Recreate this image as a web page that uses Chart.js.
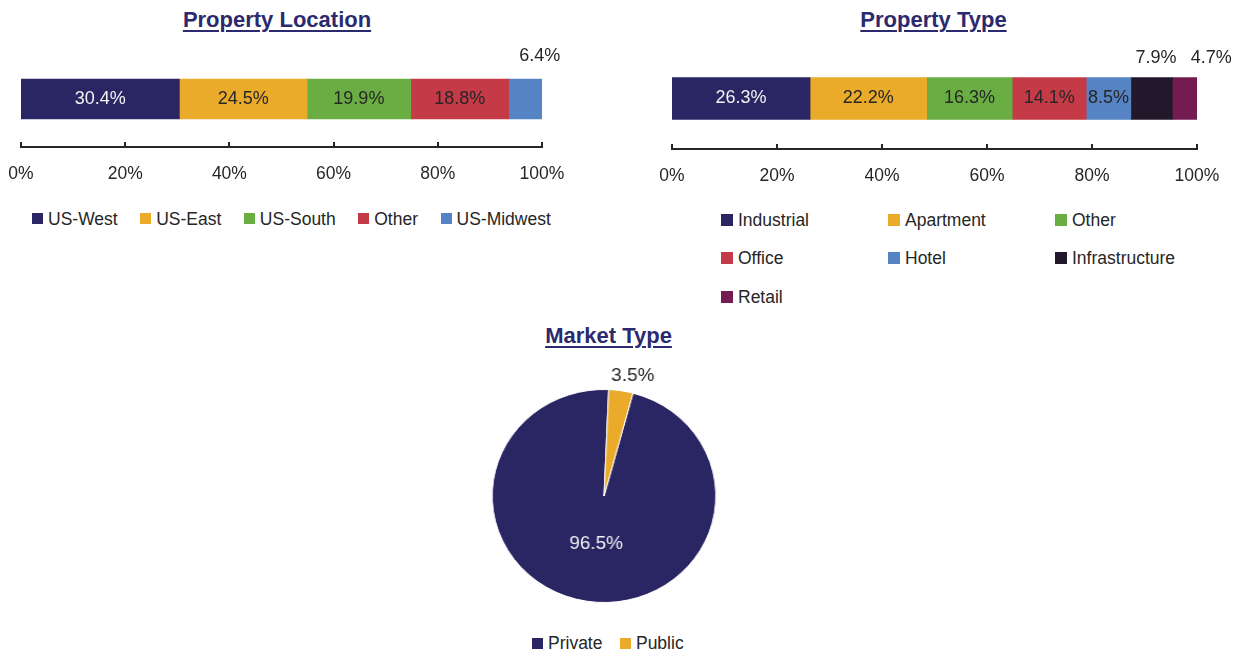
<!DOCTYPE html>
<html><head><meta charset="utf-8">
<script src="https://cdn.jsdelivr.net/npm/chart.js@4.4.1/dist/chart.umd.min.js"></script>
<style>
html,body{margin:0;padding:0;background:#fff;}
body{width:1236px;height:652px;position:relative;overflow:hidden;font-family:"Liberation Sans",Arial,sans-serif;color:#262626;}
.title{position:absolute;font-weight:bold;font-size:22px;line-height:22px;color:#2B2A6E;text-decoration:underline;text-decoration-thickness:2px;text-underline-offset:3px;white-space:nowrap;transform:translateX(-50%);}
canvas{position:absolute;}
.legend{position:absolute;font-size:17.5px;line-height:20px;white-space:nowrap;}
.row{display:flex;}
.item{display:flex;align-items:center;}
.box{width:11px;height:11px;margin-right:5px;flex:none;}
.grid{display:grid;grid-template-columns:167px 167px 167px;row-gap:18.5px;}
.grid .box{width:12px;height:12px;}
</style></head><body>
<div class="title" style="left:277px;top:9px">Property Location</div>
<div class="title" style="left:933.5px;top:9px">Property Type</div>
<div class="title" style="left:608.5px;top:325px">Market Type</div>

<canvas id="c1" width="605" height="187" style="left:-9px;top:0;width:605px;height:187px"></canvas>
<canvas id="c2" width="596" height="189" style="left:640px;top:0;width:596px;height:189px"></canvas>
<canvas id="c3" width="240" height="260" style="left:484px;top:366px;width:240px;height:260px;transform:scaleX(1.05);transform-origin:120px 130px"></canvas>

<div id="lg1" class="legend row" style="left:32px;top:208.5px;gap:22.5px"></div>
<div id="lg2" class="legend grid" style="left:721px;top:209.5px"></div>
<div id="lg3" class="legend row" style="left:532px;top:633px;gap:17.5px"></div>

<script>
// ---- data ----
const locationLabels = ['US-West','US-East','US-South','Other','US-Midwest'];
const locationValues = [30.4, 24.5, 19.9, 18.8, 6.4];
const typeLabels = ['Industrial','Apartment','Other','Office','Hotel','Infrastructure','Retail'];
const typeValues = [26.3, 22.2, 16.3, 14.1, 8.5, 7.9, 4.7];
const marketLabels = ['Private','Public'];
const marketValues = [96.5, 3.5];
const axisTicks = [0, 20, 40, 60, 80, 100];

// ---- styles ----
const locationColors = ['#2A2563','#EBAB2A','#6AAE43','#C53A47','#5583C4'];
const typeColors = ['#2A2563','#EBAB2A','#6AAE43','#C53A47','#5583C4','#21182B','#741B51'];
const marketColors = ['#2A2563','#EBAB2A'];
const locationLabelStyle = [{color:'#F2F2F2'},{},{},{},{out:23, dx:14.5}];
const typeLabelStyle = [{color:'#F2F2F2'},{},{},{},{},{out:19, dx:4.5},{out:19, dx:26.5}];
const marketLabelStyle = [{color:'#F2F2F2', f:0.46},{out:15, dx:9}];
const TXT = '#262626';
const FONT = '"Liberation Sans", Arial, sans-serif';

const segLabels = {
  id:'segLabels',
  afterDatasetsDraw(chart, args, opts){
    const ctx = chart.ctx;
    ctx.save();
    ctx.font = opts.font; ctx.textAlign = 'center'; ctx.textBaseline = 'middle';
    const isPie = chart.config.type === 'pie';
    chart.data.datasets.forEach((ds, i) => {
      const meta = chart.getDatasetMeta(i);
      meta.data.forEach((el, j) => {
        const v = ds.data[j];
        const st = opts.styles[isPie ? j : i] || {};
        let x, y;
        if (isPie) {
          const p = el.getProps(['startAngle','endAngle','outerRadius','x','y'], true);
          const mid = (p.startAngle + p.endAngle) / 2;
          const r = st.out ? p.outerRadius + st.out : p.outerRadius * (st.f || 0.5);
          x = p.x + Math.cos(mid) * r + (st.dx || 0);
          y = p.y + Math.sin(mid) * r;
        } else {
          const p = el.getProps(['x','y','base','height'], true);
          x = (p.x + p.base) / 2 + (st.dx || 0);
          y = st.out ? p.y - p.height / 2 - st.out : p.y;
        }
        ctx.fillStyle = st.color || opts.color;
        ctx.fillText(v.toFixed(1) + '%', x, y);
      });
    });
    ctx.restore();
  }
};

const upTicks = {
  id:'upTicks',
  afterDraw(chart, args, opts){
    const s = chart.scales.x, ctx = chart.ctx, yb = s.top;
    ctx.save(); ctx.strokeStyle = opts.color; ctx.lineWidth = opts.width;
    s.ticks.forEach(t => {
      const x = Math.round(s.getPixelForValue(t.value));
      ctx.beginPath(); ctx.moveTo(x, yb); ctx.lineTo(x, yb - opts.len); ctx.stroke();
    });
    ctx.restore();
  }
};

function makeBar(id, labels, values, colors, styles, pad, thick){
  return new Chart(document.getElementById(id), {
    type:'bar',
    data:{ labels:[''], datasets: labels.map((l, i) => ({label:l, data:[values[i]], backgroundColor:colors[i], borderWidth:0, barThickness:thick})) },
    options:{
      indexAxis:'y', responsive:false, animation:false, events:[],
      layout:{padding:pad},
      plugins:{
        legend:{display:false}, tooltip:{enabled:false},
        segLabels:{font:'18px ' + FONT, color:TXT, styles},
        upTicks:{color:TXT, width:2, len:5}
      },
      scales:{
        x:{
          stacked:true, min:0, max:100,
          afterBuildTicks: s => { s.ticks = axisTicks.map(v => ({value:v})); },
          afterFit: s => { s.height = 40; },
          grid:{display:false},
          border:{display:true, color:TXT, width:2},
          ticks:{padding:9, color:TXT, font:{family:FONT, size:17.5}, callback: v => v + '%', maxRotation:0, autoSkip:false}
        },
        y:{stacked:true, display:false}
      }
    },
    plugins:[segLabels, upTicks]
  });
}

makeBar('c1', locationLabels, locationValues, locationColors, locationLabelStyle, {left:30, right:54, top:51, bottom:0}, 40);
makeBar('c2', typeLabels, typeValues, typeColors, typeLabelStyle, {left:32, right:39, top:48, bottom:0}, 42);

new Chart(document.getElementById('c3'), {
  type:'pie',
  data:{labels:marketLabels, datasets:[{data:marketValues, backgroundColor:marketColors, borderColor:'#fff', borderWidth:1}]},
  options:{
    responsive:false, animation:false, events:[], rotation:15,
    layout:{padding:{left:13, right:13, top:23, bottom:23}},
    plugins:{legend:{display:false}, tooltip:{enabled:false},
      segLabels:{font:'18px ' + FONT, color:TXT, styles:marketLabelStyle}}
  },
  plugins:[segLabels]
});

function buildLegend(id, labels, colors){
  const el = document.getElementById(id);
  labels.forEach((l, i) => {
    const it = document.createElement('div'); it.className = 'item';
    const b = document.createElement('span'); b.className = 'box'; b.style.background = colors[i];
    const t = document.createElement('span'); t.textContent = l;
    it.appendChild(b); it.appendChild(t); el.appendChild(it);
  });
}
buildLegend('lg1', locationLabels, locationColors);
buildLegend('lg2', typeLabels, typeColors);
buildLegend('lg3', marketLabels, marketColors);
</script>
</body></html>
